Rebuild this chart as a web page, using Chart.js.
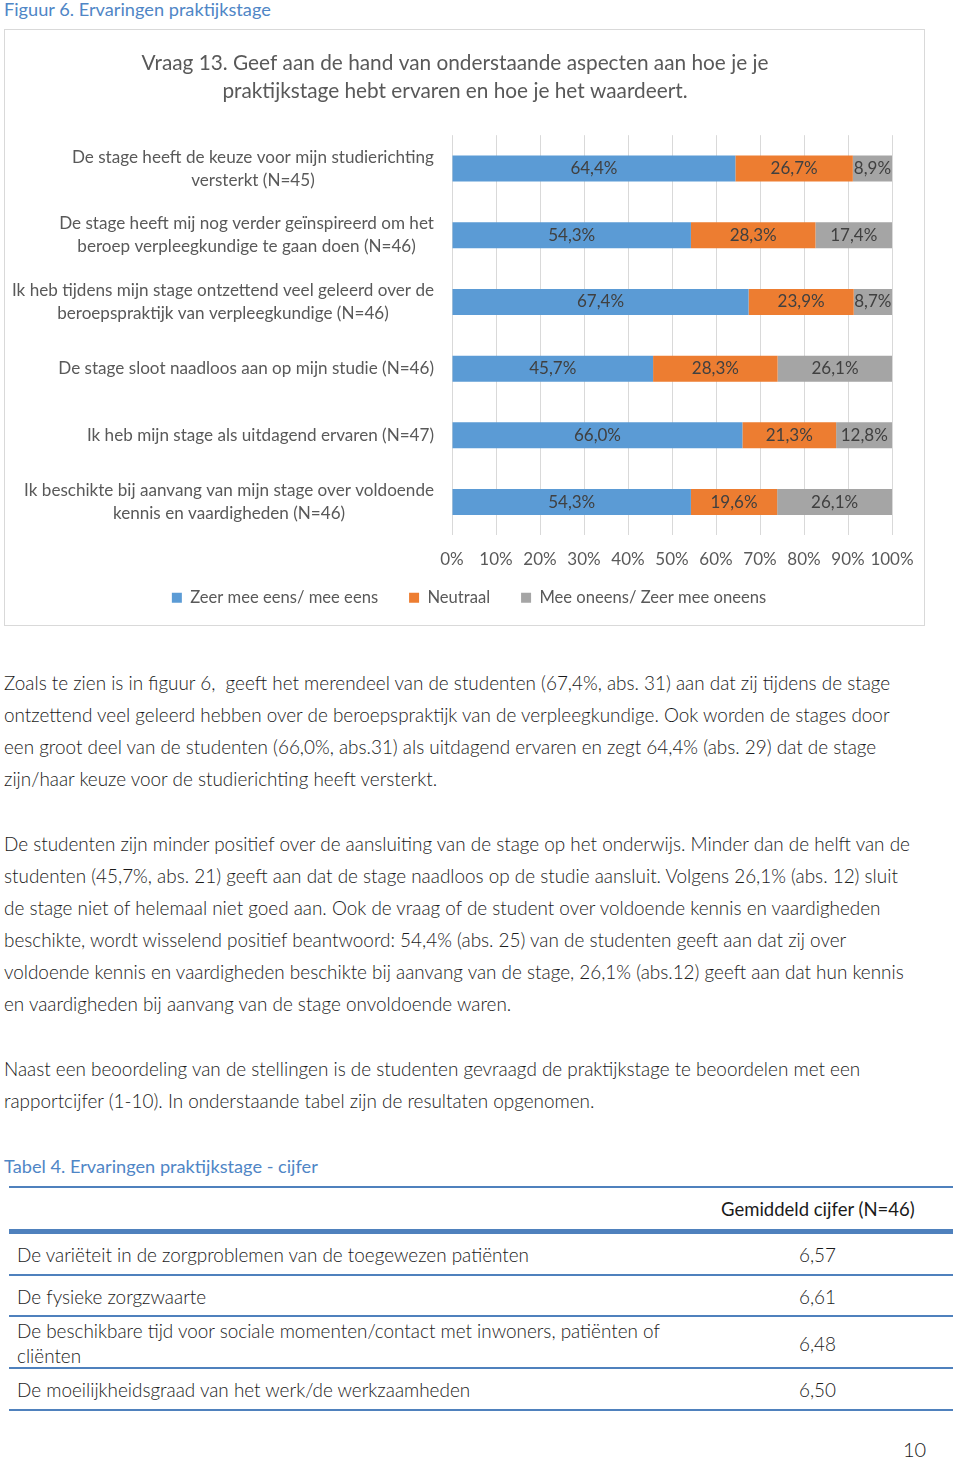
<!DOCTYPE html>
<html>
<head>
<meta charset="utf-8">
<script src="https://cdn.jsdelivr.net/npm/chart.js@4/dist/chart.umd.min.js"></script>
<style>
  body { margin: 0; background: #fff; font-family: Lato, sans-serif; color: #1a1a1a; }
  .page { position: relative; width: 960px; height: 1459px; overflow: hidden; }
  .cap { position: absolute; left: 4px; font-size: 18.2px; color: #4f86c6; white-space: pre; }
  .box { position: absolute; left: 4px; top: 29px; width: 919px; height: 595px; border: 1px solid #d9d9d9; }
  .box canvas { position: absolute; left: 0; top: 0; }
  .txt { position: absolute; left: 4px; font-size: 18.9px; font-weight: 300; line-height: 32px; white-space: pre; }
  .hl { position: absolute; left: 9px; width: 944px; background: #4f81bd; }
  .cell { position: absolute; font-size: 18.9px; font-weight: 300; white-space: pre; line-height: 25px; }
</style>
</head>
<body>
<div class="page">
  <div class="cap" style="top:-2px">Figuur 6. Ervaringen praktijkstage</div>
  <div class="box"><canvas id="myChart" width="919" height="595"></canvas></div>

  <div class="txt" style="top:667px">Zoals te zien is in figuur 6,  geeft het merendeel van de studenten (67,4%, abs. 31) aan dat zij tijdens de stage
ontzettend veel geleerd hebben over de beroepspraktijk van de verpleegkundige. Ook worden de stages door
een groot deel van de studenten (66,0%, abs.31) als uitdagend ervaren en zegt 64,4% (abs. 29) dat de stage
zijn/haar keuze voor de studierichting heeft versterkt.</div>

  <div class="txt" style="top:828px">De studenten zijn minder positief over de aansluiting van de stage op het onderwijs. Minder dan de helft van de
studenten (45,7%, abs. 21) geeft aan dat de stage naadloos op de studie aansluit. Volgens 26,1% (abs. 12) sluit
de stage niet of helemaal niet goed aan. Ook de vraag of de student over voldoende kennis en vaardigheden
beschikte, wordt wisselend positief beantwoord: 54,4% (abs. 25) van de studenten geeft aan dat zij over
voldoende kennis en vaardigheden beschikte bij aanvang van de stage, 26,1% (abs.12) geeft aan dat hun kennis
en vaardigheden bij aanvang van de stage onvoldoende waren.</div>

  <div class="txt" style="top:1053px">Naast een beoordeling van de stellingen is de studenten gevraagd de praktijkstage te beoordelen met een
rapportcijfer (1-10). In onderstaande tabel zijn de resultaten opgenomen.</div>

  <div class="cap" style="top:1155px">Tabel 4. Ervaringen praktijkstage - cijfer</div>

  <div class="hl" style="top:1186px;height:2px"></div>
  <div class="cell" style="top:1197px;left:721px;font-weight:400;font-size:18.5px">Gemiddeld cijfer (N=46)</div>
  <div class="hl" style="top:1229px;height:5px"></div>
  <div class="cell" style="top:1242px;left:17px">De variëteit in de zorgproblemen van de toegewezen patiënten</div>
  <div class="cell" style="top:1242px;left:799px">6,57</div>
  <div class="hl" style="top:1274px;height:2px"></div>
  <div class="cell" style="top:1284px;left:17px">De fysieke zorgzwaarte</div>
  <div class="cell" style="top:1284px;left:799px">6,61</div>
  <div class="hl" style="top:1315px;height:2px"></div>
  <div class="cell" style="top:1318px;left:17px">De beschikbare tijd voor sociale momenten/contact met inwoners, patiënten of
cliënten</div>
  <div class="cell" style="top:1331px;left:799px">6,48</div>
  <div class="hl" style="top:1367px;height:2px"></div>
  <div class="cell" style="top:1377px;left:17px">De moeilijkheidsgraad van het werk/de werkzaamheden</div>
  <div class="cell" style="top:1377px;left:799px">6,50</div>
  <div class="hl" style="top:1409px;height:2px"></div>

  <div class="cell" style="top:1437px;left:903px;font-size:20px">10</div>
</div>

<script>
const categories = [
  ["De stage heeft de keuze voor mijn studierichting", "versterkt (N=45)"],
  ["De stage heeft mij nog verder geïnspireerd om het", "beroep verpleegkundige te gaan doen (N=46)"],
  ["Ik heb tijdens mijn stage ontzettend veel geleerd over de", "beroepspraktijk van verpleegkundige (N=46)"],
  ["De stage sloot naadloos aan op mijn studie (N=46)"],
  ["Ik heb mijn stage als uitdagend ervaren (N=47)"],
  ["Ik beschikte bij aanvang van mijn stage over voldoende", "kennis en vaardigheden (N=46)"]
];
const seriesNames = ["Zeer mee eens/ mee eens", "Neutraal", "Mee oneens/ Zeer mee oneens"];
const eens = [64.4, 54.3, 67.4, 45.7, 66.0, 54.3];
const neutraal = [26.7, 28.3, 23.9, 28.3, 21.3, 19.6];
const oneens = [8.9, 17.4, 8.7, 26.1, 12.8, 26.1];
const seriesColors = ["#5b9bd5", "#ed7d31", "#a5a5a5"];
const titleLines = ["Vraag 13. Geef aan de hand van onderstaande aspecten aan hoe je je",
                    "praktijkstage hebt ervaren en hoe je het waardeert."];

const grey = "#595959";
const fontName = "Lato";

// waarden in de balken
const barLabels = {
  id: "barLabels",
  afterDatasetsDraw(chart) {
    const ctx = chart.ctx;
    ctx.save();
    ctx.font = "17px " + fontName;
    ctx.fillStyle = "#404040";
    ctx.textAlign = "center";
    ctx.textBaseline = "middle";
    chart.data.datasets.forEach((ds, i) => {
      chart.getDatasetMeta(i).data.forEach((bar, j) => {
        const txt = ds.data[j].toFixed(1).replace(".", ",") + "%";
        ctx.fillText(txt, (bar.x + bar.base) / 2, bar.y);
      });
    });
    ctx.restore();
  }
};

// categorie-labels: blok rechts uitgelijnd, regels gecentreerd
const catLabels = {
  id: "catLabels",
  afterDraw(chart) {
    const ctx = chart.ctx;
    const y = chart.scales.y;
    const right = chart.chartArea.left - 18;
    const lh = 23;
    ctx.save();
    ctx.font = "17.1px " + fontName;
    ctx.fillStyle = grey;
    ctx.textAlign = "center";
    ctx.textBaseline = "middle";
    categories.forEach((lines, i) => {
      const w = Math.max(...lines.map(l => ctx.measureText(l).width));
      const cx = right - w / 2;
      const cy = y.getPixelForTick(i) - (lines.length - 1) * lh / 2;
      lines.forEach((l, k) => ctx.fillText(l, cx, cy + k * lh));
    });
    ctx.restore();
  }
};

// legenda iets dichter onder de as en iets naar rechts
const legendNudge = {
  id: "legendNudge",
  afterLayout(chart) {
    const lg = chart.legend;
    lg.top -= 9; lg.bottom -= 9;
    lg.left += 14; lg.right += 14;
  }
};

new Chart(document.getElementById("myChart"), {
  type: "bar",
  data: {
    labels: categories,
    datasets: [
      { label: seriesNames[0], data: eens, backgroundColor: seriesColors[0] },
      { label: seriesNames[1], data: neutraal, backgroundColor: seriesColors[1] },
      { label: seriesNames[2], data: oneens, backgroundColor: seriesColors[2] }
    ]
  },
  plugins: [barLabels, catLabels, legendNudge],
  options: {
    indexAxis: "y",
    responsive: false,
    animation: false,
    layout: { padding: { left: 0, right: 19, top: 0, bottom: 0 } },
    datasets: { bar: { categoryPercentage: 1, barPercentage: 0.39 } },
    scales: {
      x: {
        stacked: true,
        min: 0,
        max: 100,
        ticks: { stepSize: 10, padding: 14, color: grey, font: { family: fontName, size: 17 },
                 maxRotation: 0, minRotation: 0, autoSkip: false,
                 callback: v => v + "%" },
        grid: { color: "#d9d9d9", drawTicks: false },
        border: { display: false },
        afterFit(scale) {
          scale.height = 32;
          scale.paddingLeft = 0;
          scale.paddingRight = 32;
        }
      },
      y: {
        stacked: true,
        ticks: { display: false },
        grid: { display: false },
        border: { display: false },
        afterFit(scale) { scale.width = 447; }
      }
    },
    plugins: {
      title: {
        display: true,
        text: titleLines,
        color: grey,
        font: { family: fontName, size: 20.8, weight: "normal", lineHeight: 1.35 },
        padding: { top: 19, bottom: 30 }
      },
      legend: {
        position: "bottom",
        labels: { boxWidth: 10, boxHeight: 10, padding: 31, color: grey,
                  font: { family: fontName, size: 16.6 } }
      },
      tooltip: { enabled: false }
    }
  }
});
</script>
</body>
</html>
